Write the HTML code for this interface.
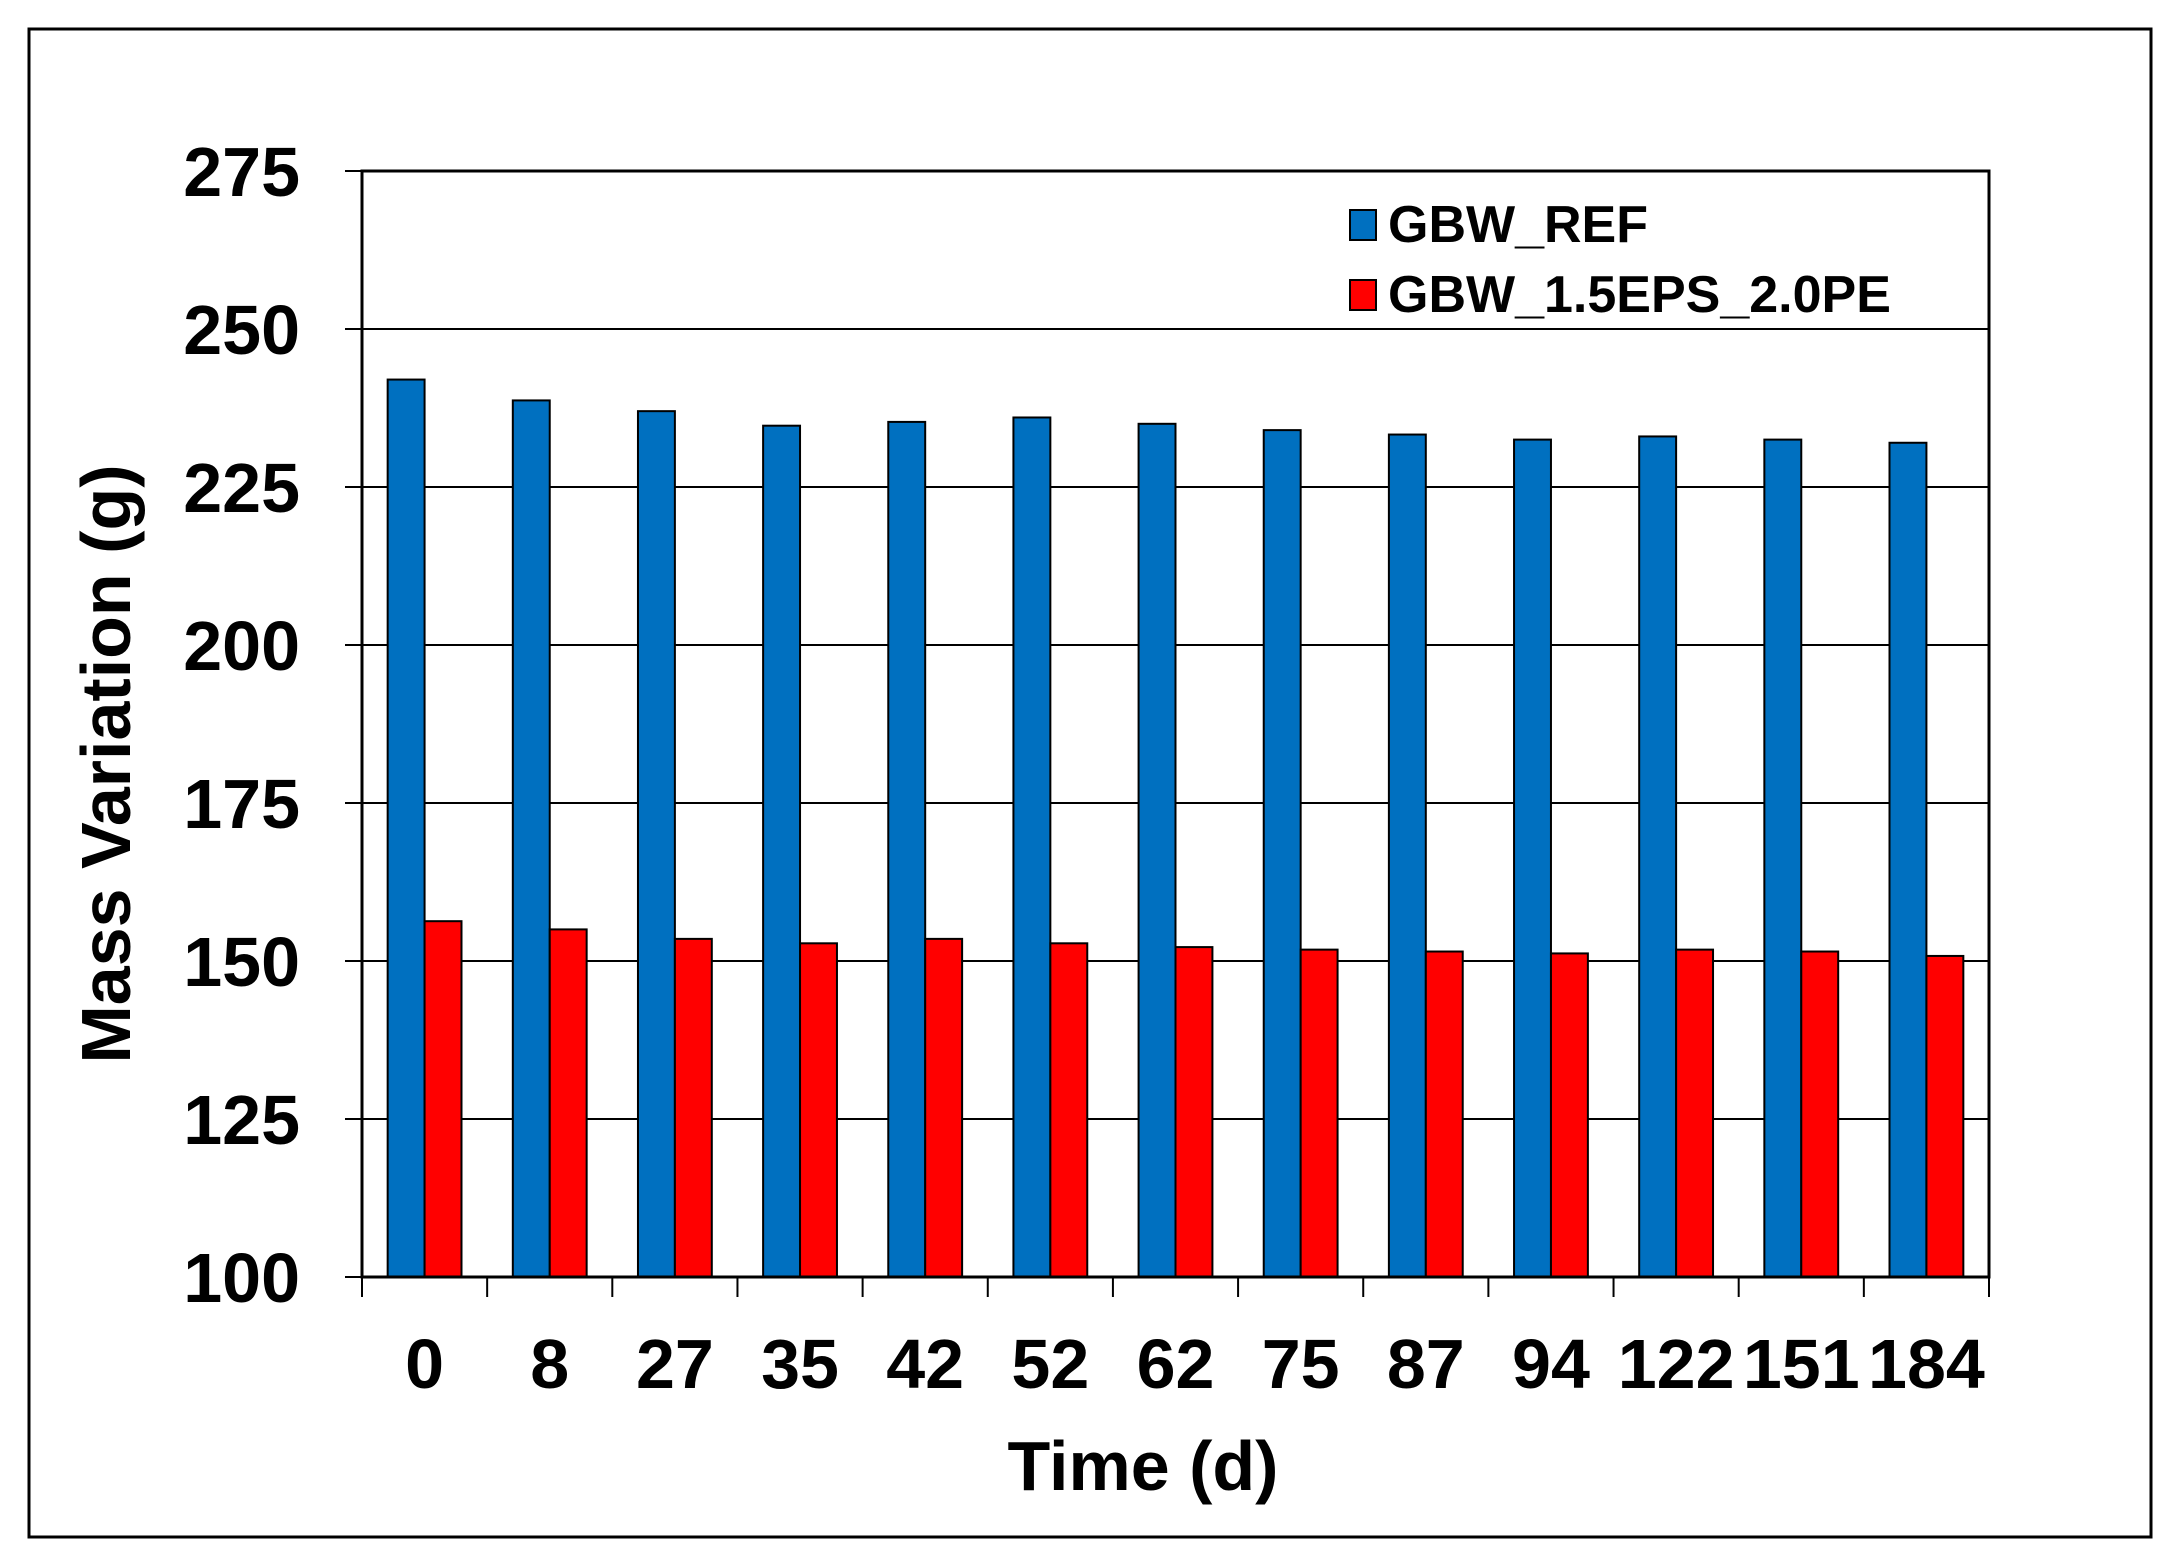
<!DOCTYPE html>
<html><head><meta charset="utf-8"><style>
html,body{margin:0;padding:0;background:#fff;}
svg{display:block;font-family:"Liberation Sans",Arial,sans-serif;font-weight:bold;}
</style></head><body>
<svg id="chart" width="2175" height="1568" viewBox="0 0 2175 1568" xmlns="http://www.w3.org/2000/svg">
<rect x="29" y="29" width="2122" height="1508" fill="#fff" stroke="#000" stroke-width="3"/>
<g id="grid"></g><g id="bars"></g><g id="axes"></g>
<text transform="translate(130,764) rotate(-90)" text-anchor="middle" font-size="70">Mass Variation (g)</text>
<text x="1143" y="1490" text-anchor="middle" font-size="70">Time (d)</text>
<g>
<rect x="1350" y="210" width="26" height="30" fill="#0070C0" stroke="#000" stroke-width="2"/>
<text x="1388" y="242" font-size="52">GBW_REF</text>
<rect x="1350" y="280" width="26" height="30" fill="#FF0000" stroke="#000" stroke-width="2"/>
<text x="1388" y="312" font-size="52">GBW_1.5EPS_2.0PE</text>
</g>
</svg>
<script>
const categories=["0","8","27","35","42","52","62","75","87","94","122","151","184"];
const refValues=[242,238.7,237,234.7,235.3,236,235,234,233.3,232.5,233,232.5,232];
const epsValues=[156.3,155,153.5,152.8,153.5,152.8,152.2,151.8,151.5,151.2,151.8,151.5,150.8];
const yTicks=[100,125,150,175,200,225,250,275];
const NS="http://www.w3.org/2000/svg";
const L=362,R=1989,T=171,B=1277,yMin=100,yMax=275;
const y=v=>B-(v-yMin)/(yMax-yMin)*(B-T);
const cw=(R-L)/categories.length;
const x=i=>L+i*cw;
function mk(tag,attrs,parent){const e=document.createElementNS(NS,tag);for(const k in attrs)e.setAttribute(k,attrs[k]);parent.appendChild(e);return e;}
const grid=document.getElementById('grid'),bars=document.getElementById('bars'),axes=document.getElementById('axes');
yTicks.forEach(t=>{
  if(t>yMin){const g=mk('line',{x1:L,x2:R,y1:y(t),y2:y(t),stroke:'#000','stroke-width':2},grid);
  
  }
  const tk=mk('line',{x1:L-17,x2:L,y1:y(t),y2:y(t),stroke:'#000','stroke-width':2},axes);
  
  
  const lb=mk('text',{x:300,y:y(t)+25,'text-anchor':'end','font-size':70},axes);
  lb.textContent=t;
  
  
});
const bw=cw*0.295,off=cw*0.205;
categories.forEach((c,i)=>{
  const b1=mk('rect',{x:x(i)+off,y:y(refValues[i]),width:bw,height:B-y(refValues[i]),fill:'#0070C0',stroke:'#000','stroke-width':2},bars);
  
  
  const b2=mk('rect',{x:x(i)+off+bw,y:y(epsValues[i]),width:bw,height:B-y(epsValues[i]),fill:'#FF0000',stroke:'#000','stroke-width':2},bars);
  
  
  const lb=mk('text',{x:x(i)+cw/2,y:1388,'text-anchor':'middle','font-size':70},axes);
  lb.textContent=c;
  
  
});
for(let i=0;i<=categories.length;i++){
  const tk=mk('line',{x1:x(i),x2:x(i),y1:B,y2:B+20,stroke:'#000','stroke-width':2},axes);
  
  
}
const fr=mk('rect',{x:L,y:T,width:R-L,height:B-T,fill:'none',stroke:'#000','stroke-width':3},axes);


</script>
</body></html>
